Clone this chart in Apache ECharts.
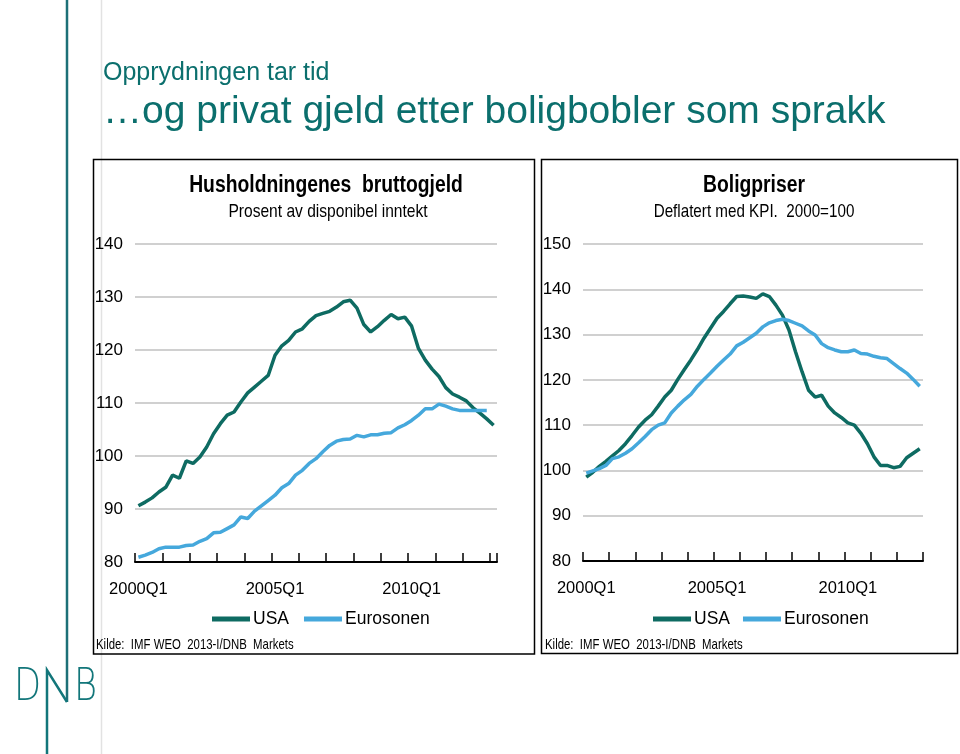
<!DOCTYPE html>
<html><head><meta charset="utf-8">
<script src="https://cdn.jsdelivr.net/npm/echarts@6/dist/echarts.min.js"></script>
<style>html,body{margin:0;padding:0;background:#fff}#c{width:960px;height:754px}</style>
</head><body><div id="c"></div><script>
// ---- data ----
const quartersDebt = ['2000Q1','2000Q2','2000Q3','2000Q4','2001Q1','2001Q2','2001Q3','2001Q4','2002Q1','2002Q2','2002Q3','2002Q4','2003Q1','2003Q2','2003Q3','2003Q4','2004Q1','2004Q2','2004Q3','2004Q4','2005Q1','2005Q2','2005Q3','2005Q4','2006Q1','2006Q2','2006Q3','2006Q4','2007Q1','2007Q2','2007Q3','2007Q4','2008Q1','2008Q2','2008Q3','2008Q4','2009Q1','2009Q2','2009Q3','2009Q4','2010Q1','2010Q2','2010Q3','2010Q4','2011Q1','2011Q2','2011Q3','2011Q4','2012Q1','2012Q2','2012Q3','2012Q4','2013Q1'];
const quartersPrice = ['2000Q1','2000Q2','2000Q3','2000Q4','2001Q1','2001Q2','2001Q3','2001Q4','2002Q1','2002Q2','2002Q3','2002Q4','2003Q1','2003Q2','2003Q3','2003Q4','2004Q1','2004Q2','2004Q3','2004Q4','2005Q1','2005Q2','2005Q3','2005Q4','2006Q1','2006Q2','2006Q3','2006Q4','2007Q1','2007Q2','2007Q3','2007Q4','2008Q1','2008Q2','2008Q3','2008Q4','2009Q1','2009Q2','2009Q3','2009Q4','2010Q1','2010Q2','2010Q3','2010Q4','2011Q1','2011Q2','2011Q3','2011Q4','2012Q1','2012Q2','2012Q3','2012Q4'];
const debtUSA = [90.6,91.3,92.1,93.2,94.1,96.4,95.8,99.1,98.6,99.8,101.7,104.2,106.1,107.7,108.3,110.2,111.9,113.0,114.1,115.2,119.0,120.8,121.8,123.4,124.0,125.4,126.5,126.9,127.3,128.1,129.1,129.4,127.9,124.8,123.4,124.4,125.6,126.7,125.9,126.2,124.5,120.3,118.1,116.4,115.0,112.9,111.7,111.1,110.4,109.1,108.1,107.0,105.8];
const debtEuro = [80.9,81.3,81.8,82.5,82.8,82.8,82.8,83.1,83.2,83.9,84.4,85.5,85.6,86.3,87.0,88.5,88.2,89.6,90.6,91.6,92.6,94.0,94.8,96.4,97.3,98.6,99.5,100.8,102.0,102.8,103.1,103.2,103.9,103.6,104.0,104.0,104.3,104.4,105.3,105.9,106.7,107.7,108.9,108.9,109.8,109.4,108.9,108.6,108.6,108.6,108.6,108.6];
const priceUSA = [98.5,99.6,100.9,102.0,103.2,104.4,105.9,107.7,109.6,111.1,112.3,114.2,116.2,117.7,120.1,122.3,124.4,126.7,129.2,131.4,133.6,135.1,136.8,138.4,138.5,138.3,138.0,139.0,138.4,136.5,134.3,131.0,126.2,121.8,117.7,116.2,116.6,114.2,112.7,111.7,110.5,110.0,108.2,105.9,103.0,101.1,101.1,100.6,100.9,102.8,103.8,104.8];
const priceEuro = [99.4,99.9,100.4,101.1,102.6,103.0,103.8,104.8,106.1,107.5,109.0,110.0,110.5,112.7,114.2,115.6,116.8,118.6,120.1,121.5,123.0,124.4,125.7,127.5,128.3,129.3,130.3,131.7,132.6,133.1,133.4,133.1,132.5,131.9,130.8,129.9,128.0,127.1,126.6,126.2,126.2,126.6,125.8,125.7,125.2,124.9,124.7,123.6,122.5,121.5,120.1,118.6];
const seriesNames = ['USA','Eurosonen'];
const debtAxis = {min:80, max:140, step:10};
const priceAxis = {min:80, max:150, step:10};

// ---- style ----
const SANS = "'Liberation Sans',Arial,sans-serif";
const TEAL = '#0b6f6d';
const C_USA = '#0e6b62';
const C_EUR = '#45a8dc';

function xAxisCfg(grid, data){
  return {
    type:'category', gridIndex:grid, data:data, boundaryGap:true,
    axisLine:{show:true, lineStyle:{color:'#000', width:2}},
    axisTick:{show:true, inside:true, length:9, interval:3, lineStyle:{color:'#000', width:1.5}},
    axisLabel:{interval:19, color:'#000', fontFamily:SANS, fontSize:16.5, margin:19},
    splitLine:{show:false}
  };
}
function yAxisCfg(grid, ax){
  return {
    type:'value', gridIndex:grid, min:ax.min, max:ax.max, interval:ax.step,
    axisLine:{show:false}, axisTick:{show:false},
    splitLine:{lineStyle:{color:'#d0d0d0', width:2}},
    axisLabel:{color:'#000', fontFamily:SANS, fontSize:17, margin:12}
  };
}
function lineSeries(name, grid, data, color){
  return {name:name, type:'line', xAxisIndex:grid, yAxisIndex:grid, data:data, symbol:'none',
    lineStyle:{color:color, width:3.5}, itemStyle:{color:color}, animation:false};
}
function legendCfg(left, gap){
  return {data:seriesNames, left:left, top:610, icon:'rect', itemWidth:38, itemHeight:5, itemGap:gap, padding:0,
    textStyle:{fontFamily:SANS, fontSize:17.5, color:'#000', padding:[0,0,0,-2]}};
}
function txt(x, y, text, font, color, align, sx){
  return {type:'text', x:x, y:y, scaleX:sx||1, silent:true, style:{text:text, font:font, fill:color||'#000', textAlign:align||'left', textVerticalAlign:'middle'}};
}

const chart = echarts.init(document.getElementById('c'), null, {renderer:'canvas'});
chart.setOption({
  animation:false,
  backgroundColor:'#fff',
  grid:[
    {left:135, right:463, top:244, bottom:192},
    {left:583, right:37, top:244, bottom:193}
  ],
  xAxis:[xAxisCfg(0, quartersDebt), xAxisCfg(1, quartersPrice)],
  yAxis:[yAxisCfg(0, debtAxis), yAxisCfg(1, priceAxis)],
  legend:[legendCfg(212, 15), legendCfg(653, 13)],
  series:[
    lineSeries('USA', 0, debtUSA, C_USA),
    lineSeries('Eurosonen', 0, debtEuro, C_EUR),
    lineSeries('USA', 1, priceUSA, C_USA),
    lineSeries('Eurosonen', 1, priceEuro, C_EUR)
  ],
  graphic:[
    {type:'line', silent:true, shape:{x1:101.5, y1:0, x2:101.5, y2:754}, style:{stroke:'#e2e2e2', lineWidth:1.5}},
    {type:'line', silent:true, shape:{x1:67, y1:0, x2:67, y2:702}, style:{stroke:'#1d7077', lineWidth:2.5}},
    {type:'polyline', silent:true, shape:{points:[[47,754],[47,670],[67,702]]}, style:{stroke:'#12767a', lineWidth:2.5, fill:null}},
    {type:'text', x:14, y:689, scaleX:0.8, silent:true, style:{text:'D', font:"200 44px 'DejaVu Sans'", fill:'#12767a', textVerticalAlign:'middle'}},
    {type:'text', x:74, y:689, scaleX:0.8, silent:true, style:{text:'B', font:"200 44px 'DejaVu Sans'", fill:'#12767a', textVerticalAlign:'middle'}},
    {type:'rect', silent:true, shape:{x:93.5, y:159.5, width:441, height:494.5}, style:{fill:null, stroke:'#000', lineWidth:1.5}},
    {type:'rect', silent:true, shape:{x:541.5, y:159.5, width:416, height:494}, style:{fill:null, stroke:'#000', lineWidth:1.5}},
    txt(103, 73, 'Opprydningen tar tid', "25px "+SANS, TEAL),
    txt(103, 112, '\u2026og privat gjeld etter boligbobler som sprakk', "39px "+SANS, TEAL),
    txt(326, 186, 'Husholdningenes  bruttogjeld', "bold 23px "+SANS, '#000', 'center', 0.84),
    txt(328, 212, 'Prosent av disponibel inntekt', "19px "+SANS, '#000', 'center', 0.82),
    txt(754, 186, 'Boligpriser', "bold 23px "+SANS, '#000', 'center', 0.84),
    txt(754, 212, 'Deflatert med KPI.  2000=100', "19px "+SANS, '#000', 'center', 0.8),
    txt(96, 645, 'Kilde:  IMF WEO  2013-I/DNB  Markets', "15px "+SANS, '#000', 'left', 0.76),
    txt(545, 645, 'Kilde:  IMF WEO  2013-I/DNB  Markets', "15px "+SANS, '#000', 'left', 0.76)
  ]
});
</script></body></html>
